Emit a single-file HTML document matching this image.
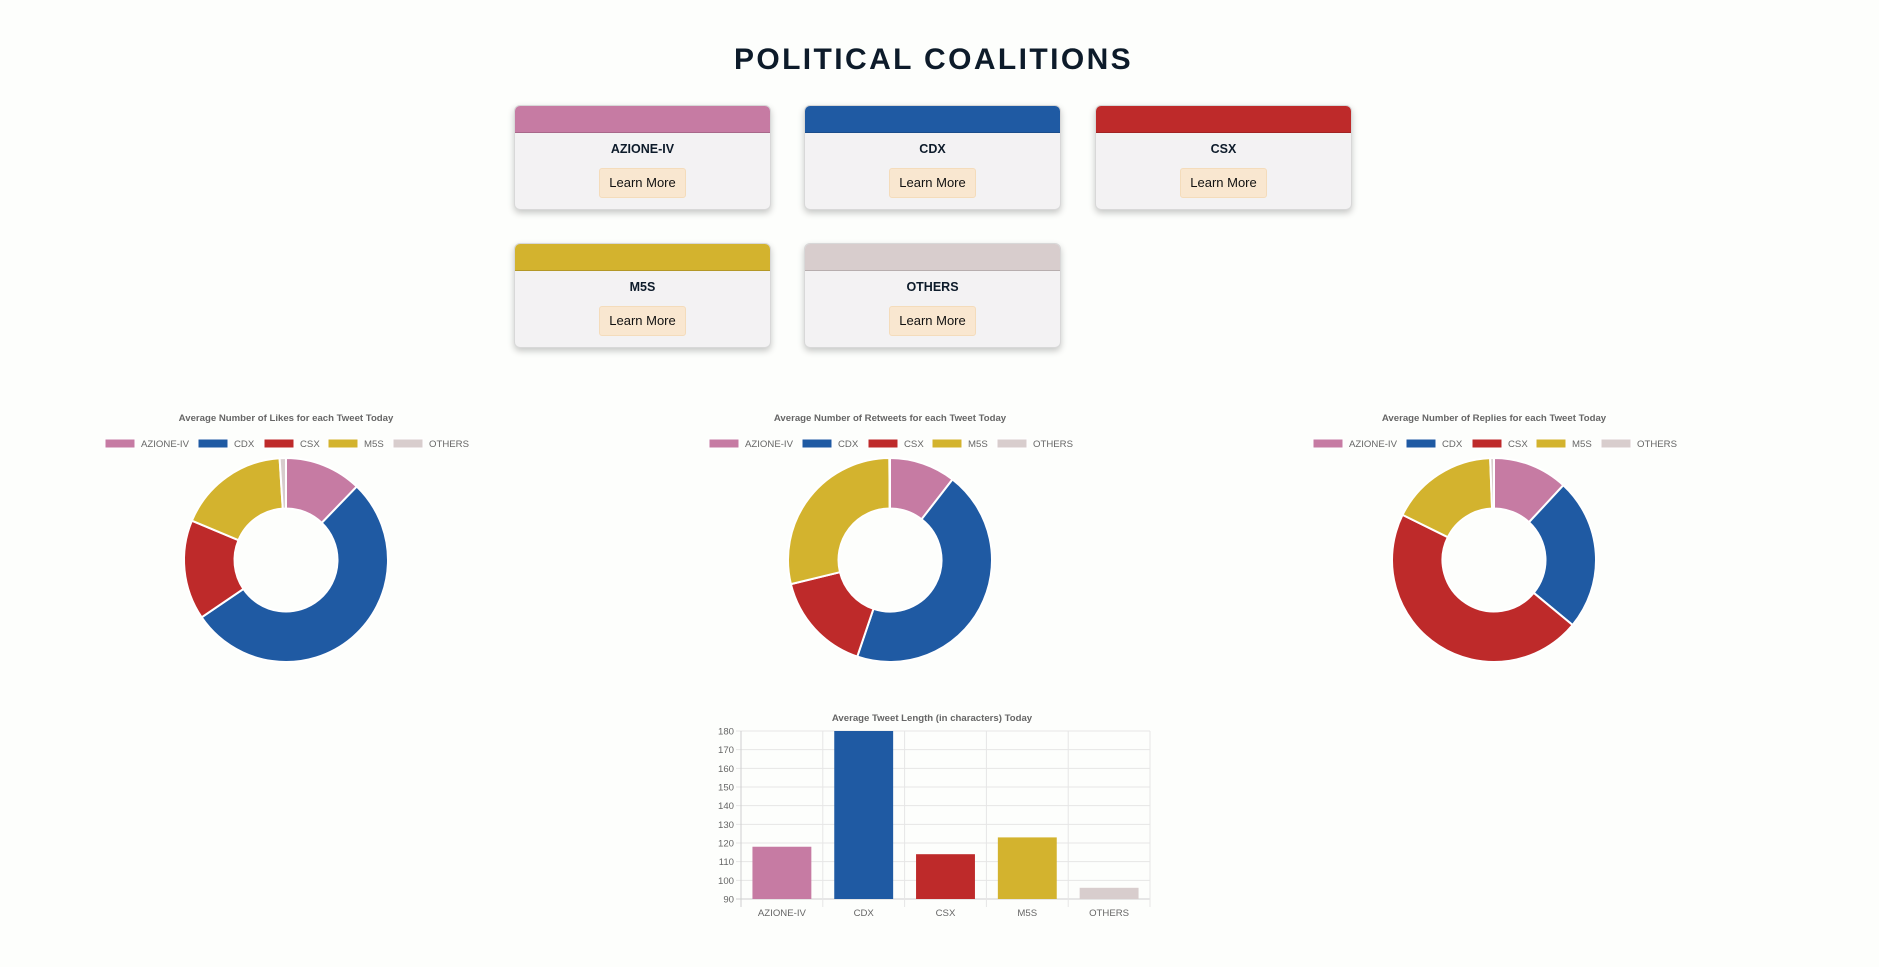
<!DOCTYPE html>
<html><head><meta charset="utf-8"><style>
body{margin:0;width:1879px;height:967px;background:#fdfefc;font-family:"Liberation Sans",sans-serif;position:relative;overflow:hidden}
h1{position:absolute;left:0;width:1867px;top:43px;margin:0;text-align:center;font-size:30px;letter-spacing:2.4px;color:#0d1b2a;font-weight:bold}
.card{position:absolute;width:257px;height:105px;background:#f3f2f3;border-radius:6px;box-shadow:0 3px 7px rgba(0,0,0,.22);overflow:hidden;border:1px solid #d8d8d8;box-sizing:border-box}
.card .bar{height:26px;border-bottom:1px solid rgba(0,0,0,.15)}
.card .nm{text-align:center;font-weight:bold;font-size:12.5px;color:#0d1b2a;margin-top:9px}
.card .btn{position:absolute;left:84px;top:62px;width:87px;height:30px;background:#f9e7d0;border:1px solid #f4dcbb;border-radius:3px;box-sizing:border-box;font-size:13px;color:#111;text-align:center;line-height:28px}
svg{position:absolute;left:0;top:0}
</style></head><body>
<h1>POLITICAL COALITIONS</h1>
<div class="card" style="left:514px;top:105px"><div class="bar" style="background:#c67ba3"></div><div class="nm">AZIONE-IV</div><div class="btn">Learn More</div></div>
<div class="card" style="left:804px;top:105px"><div class="bar" style="background:#1f5aa3"></div><div class="nm">CDX</div><div class="btn">Learn More</div></div>
<div class="card" style="left:1095px;top:105px"><div class="bar" style="background:#be2a2a"></div><div class="nm">CSX</div><div class="btn">Learn More</div></div>
<div class="card" style="left:514px;top:243px"><div class="bar" style="background:#d3b32e"></div><div class="nm">M5S</div><div class="btn">Learn More</div></div>
<div class="card" style="left:804px;top:243px"><div class="bar" style="background:#d8cdcd"></div><div class="nm">OTHERS</div><div class="btn">Learn More</div></div>
<svg id="s" width="1879" height="967" xmlns="http://www.w3.org/2000/svg" font-family="Liberation Sans, sans-serif"></svg>
<script>
const categories=["AZIONE-IV","CDX","CSX","M5S","OTHERS"];
const colors=["#c67ba3","#1f5aa3","#be2a2a","#d3b32e","#d8cdcd"];
const likesValues=[12.2,53.3,15.8,17.7,1.0];
const retweetsValues=[10.5,44.7,16.0,28.7,0.1];
const repliesValues=[11.9,24.1,46.3,17.1,0.6];
const lengthValues=[118,180,114,123,96];
const yTicks=[90,100,110,120,130,140,150,160,170,180];
const NS="http://www.w3.org/2000/svg";
const svg=document.getElementById('s');
function mk(t,a,p){const e=document.createElementNS(NS,t);for(const k in a)e.setAttribute(k,a[k]);(p||svg).appendChild(e);return e;}
function txt(x,y,s,size,fill,anchor,bold){const e=mk('text',{x:x,y:y,'font-size':size,fill:fill,'text-anchor':anchor||'middle','font-weight':bold?'bold':'normal'});e.textContent=s;return e;}
function donut(cx,title,vals,name){
  const g=mk('g',{});
  
  
  const t=txt(cx,421,title,9.6,'#666','middle',true);g.appendChild(t);
  
  
  const lx=[105,198,264,328,393];
  categories.forEach((c,i)=>{
    const x=cx-286+lx[i];
    const r=mk('rect',{x:x,y:439,width:30,height:9,fill:colors[i],stroke:'#fff','stroke-width':1},g);
    
    
    const tt=txt(x+36,447,c,9.6,'#666','start');g.appendChild(tt);
    
    
  });
  const tot=vals.reduce((a,b)=>a+b,0);
  const cy=560,R=102,r0=51.5;let a=-Math.PI/2;
  vals.forEach((v,i)=>{
    const a2=a+v/tot*2*Math.PI;const lg=(a2-a)>Math.PI?1:0;
    const p=`M${cx+R*Math.cos(a)},${cy+R*Math.sin(a)} A${R},${R} 0 ${lg} 1 ${cx+R*Math.cos(a2)},${cy+R*Math.sin(a2)} L${cx+r0*Math.cos(a2)},${cy+r0*Math.sin(a2)} A${r0},${r0} 0 ${lg} 0 ${cx+r0*Math.cos(a)},${cy+r0*Math.sin(a)} Z`;
    const s=mk('path',{d:p,fill:colors[i],stroke:'#fff','stroke-width':2},g);
    
    
    a=a2;
  });
}
donut(286,'Average Number of Likes for each Tweet Today',likesValues,'likes-donut');
donut(890,'Average Number of Retweets for each Tweet Today',retweetsValues,'retweets-donut');
donut(1494,'Average Number of Replies for each Tweet Today',repliesValues,'replies-donut');
const X0=741,X1=1150,Y0=899,Y1=731,yMin=90,yMax=180;
const yS=v=>Y0-(Math.min(v,yMax)-yMin)/(yMax-yMin)*(Y0-Y1);
const cw=(X1-X0)/categories.length;
const bt=txt(932,721,'Average Tweet Length (in characters) Today',9.6,'#666','middle',true);


yTicks.forEach(v=>{
  const y=yS(v);
  mk('line',{x1:X0-5,x2:X1,y1:y,y2:y,stroke:v===yMin?'#cfcfcf':'#e6e6e6','stroke-width':1});
  const t=txt(X0-7,y+3.5,String(v),9.6,'#666','end');
  
  
});
for(let i=0;i<=categories.length;i++){const x=X0+i*cw;mk('line',{x1:x,x2:x,y1:Y1,y2:Y0+8,stroke:i===0?'#cfcfcf':'#e6e6e6','stroke-width':1});}
categories.forEach((c,i)=>{
  const bw=cw*0.72,x=X0+i*cw+(cw-bw)/2,y=yS(lengthValues[i]);
  const b=mk('rect',{x:x,y:y,width:bw,height:Y0-y,fill:colors[i]});
  
  
  const t=txt(X0+i*cw+cw/2,916,c,9.6,'#666');
  
  
});
</script>
</body></html>
